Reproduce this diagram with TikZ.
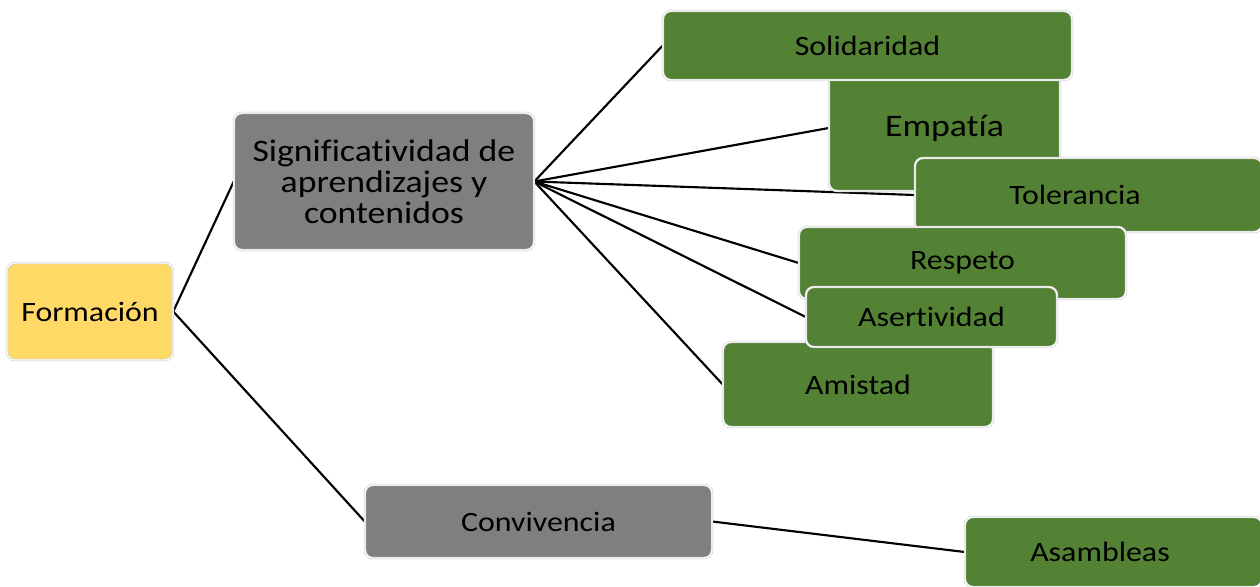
\documentclass[tikz,border=0pt]{standalone}
\usepackage{fontspec}
\setmainfont{Carlito}[FakeStretch=1.14, Ligatures=NoCommon]
\newdimen\pxu \pxu=0.75pt
\pgfdeclarelayer{bg}
\pgfsetlayers{bg,main}
\tikzset{
  box/.style={rectangle, rounded corners=6pt, draw=black!22, line width=0.4pt,
    double=white, double distance=1pt, inner sep=0pt, align=center,
    font=\fontsize{21pt}{23.3pt}\selectfont, text=black},
  big/.style={font=\fontsize{23.5pt}{23.3pt}\selectfont},
  yel/.style={box, fill={rgb,255:red,255;green,217;blue,102}},
  gry/.style={box, fill={rgb,255:red,127;green,127;blue,127}},
  grn/.style={box, fill={rgb,255:red,84;green,130;blue,53}},
  conn/.style={draw=black, line width=1.6pt}
}
\begin{document}
\begin{tikzpicture}[x=0.75pt, y=-0.75pt]
\useasboundingbox (0,0) rectangle (1260,586);
% level 1
\node[yel, minimum width=166\pxu, minimum height=97\pxu] (form) at (90,311.5) {Formación};
% level 2
\node[gry, big, minimum width=300\pxu, minimum height=137\pxu] (sig) at (384,181.5) {Significatividad de\\aprendizajes y\\contenidos};
\node[gry, minimum width=347\pxu, minimum height=73\pxu] (conv) at (538.5,521.5) {Convivencia};
% level 3 (drawing order gives the overlaps)
\node[grn, big, minimum width=231\pxu, minimum height=126\pxu] (emp) at (944.5,128) {Empatía};
\node[grn, minimum width=409\pxu, minimum height=69\pxu] (sol) at (867.5,45.5) {Solidaridad};
\node[grn, minimum width=347\pxu, minimum height=74\pxu] (tol) at (1088.5,195) {Tolerancia\hspace*{27\pxu}};
\node[grn, minimum width=327\pxu, minimum height=72\pxu] (res) at (962.5,263) {Respeto};
\node[grn, minimum width=270\pxu, minimum height=85\pxu] (ami) at (858,384.5) {Amistad};
\node[grn, minimum width=251\pxu, minimum height=60\pxu] (ase) at (931.5,317) {Asertividad};
\node[grn, minimum width=297\pxu, minimum height=70\pxu] (asa) at (1113.5,552) {Asambleas\hspace*{27\pxu}};
\begin{pgfonlayer}{bg}
\draw[conn] (form.east) -- (sig.west);
\draw[conn] (form.east) -- (conv.west);
\draw[conn] (sig.east) -- (sol.west);
\draw[conn] (sig.east) -- (emp.west);
\draw[conn] (sig.east) -- (tol.west);
\draw[conn] (sig.east) -- (res.west);
\draw[conn] (sig.east) -- (ase.west);
\draw[conn] (sig.east) -- (ami.west);
\draw[conn] (conv.east) -- (asa.west);
\end{pgfonlayer}
\end{tikzpicture}
\end{document}
